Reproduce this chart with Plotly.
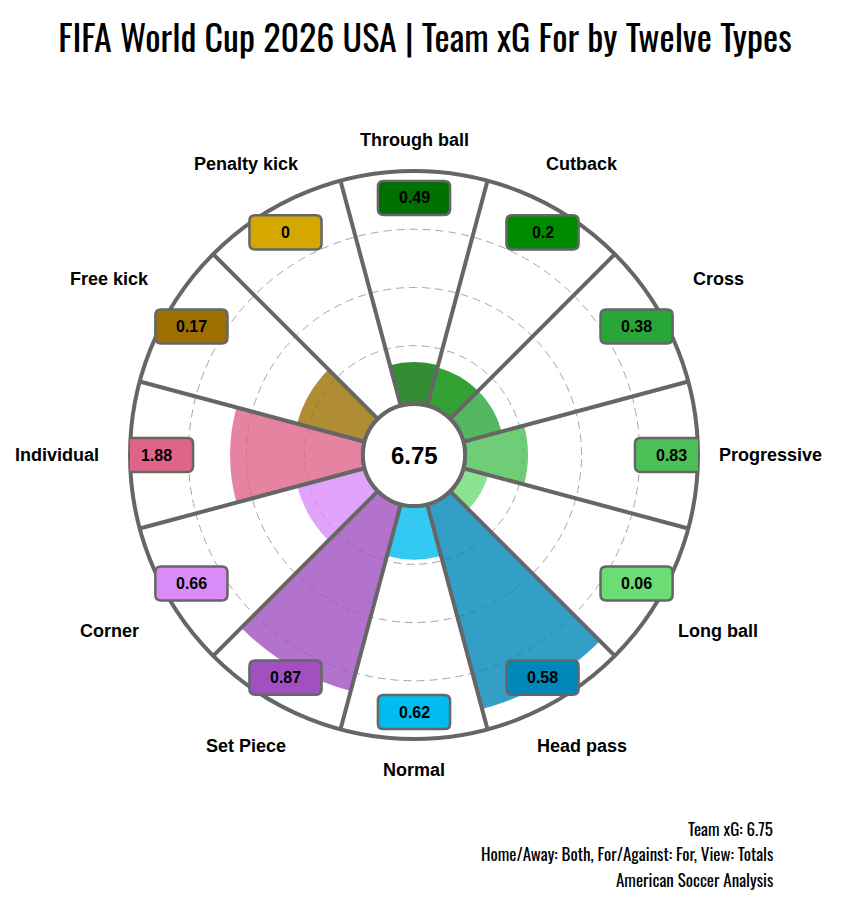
import numpy as np
import plotly.graph_objects as go

# categories clockwise from the top
categories = ["Through ball", "Cutback", "Cross", "Progressive", "Long ball", "Head pass",
              "Normal", "Set Piece", "Corner", "Individual", "Free kick", "Penalty kick"]
xg_values = [0.49, 0.2, 0.38, 0.83, 0.06, 0.58, 0.62, 0.87, 0.66, 1.88, 0.17, 0]
percentiles = [18, 17, 17, 27, 11, 91, 23, 83, 30, 57, 30, 0]
colors = ["#007000", "#008a00", "#29a638", "#4cc055", "#6cdc74", "#0087b9",
          "#00bcef", "#a050c0", "#d88cf8", "#e06488", "#9c7000", "#d4a800"]
total_xg = 6.75

title_text = "FIFA World Cup 2026 USA | Team xG For by Twelve Types"
footer_lines = ["Team xG: 6.75",
                "Home/Away: Both, For/Against: For, View: Totals",
                "American Soccer Analysis"]

COND = "Oswald, 'DejaVu Sans Condensed', 'Liberation Sans Narrow', sans-serif"
SANS = "Arial, 'Liberation Sans', sans-serif"
GRAY = "#666666"

angles = [i * 30 for i in range(len(categories))]
bounds = [a + 15 for a in angles]

fig = go.Figure()

fig.add_trace(go.Barpolar(
    r=percentiles, theta=angles, width=30,
    marker=dict(color=colors, opacity=0.8, line=dict(width=0)),
    hoverinfo="skip",
))

# sector separators
sep_r, sep_t = [], []
for b in bounds:
    sep_r += [0, 100, None]
    sep_t += [b, b, None]
fig.add_trace(go.Scatterpolar(
    r=sep_r, theta=sep_t, mode="lines", line=dict(color=GRAY, width=4),
    cliponaxis=False, hoverinfo="skip",
))

# ring around the hole
ring_t = list(range(0, 361, 2))
fig.add_trace(go.Scatterpolar(
    r=[0] * len(ring_t), theta=ring_t, mode="lines", line=dict(color=GRAY, width=4),
    cliponaxis=False, hoverinfo="skip",
))

# invisible trace so the overlay cartesian axes exist
fig.add_trace(go.Scatter(x=[-1, 1], y=[-1, 1], mode="markers", marker=dict(opacity=0),
                         hoverinfo="skip"))


def rounded_rect(cx, cy, hw, hh, cr):
    x0, x1, y0, y1 = cx - hw, cx + hw, cy - hh, cy + hh
    return (f"M {x0 + cr},{y0} L {x1 - cr},{y0} Q {x1},{y0} {x1},{y0 + cr} "
            f"L {x1},{y1 - cr} Q {x1},{y1} {x1 - cr},{y1} "
            f"L {x0 + cr},{y1} Q {x0},{y1} {x0},{y1 - cr} "
            f"L {x0},{y0 + cr} Q {x0},{y0} {x0 + cr},{y0} Z")


R_BOX = 0.905
shapes, annotations = [], []
for ang, v, c, cat in zip(angles, xg_values, colors, categories):
    s, co = np.sin(np.radians(ang)), np.cos(np.radians(ang))
    cx, cy = R_BOX * s, R_BOX * co
    shapes.append(dict(type="path", xref="x", yref="y", path=rounded_rect(cx, cy, 0.127, 0.06, 0.02),
                       fillcolor=c, line=dict(color=GRAY, width=2.5), layer="above"))
    annotations.append(dict(x=cx, y=cy, xref="x", yref="y", text=f"<b>{v:g}</b>", showarrow=False,
                            font=dict(family=SANS, size=16, color="black")))
    # category label outside the ring (paper coords, polar square fills the plot area)
    rho = 1.109 + 0.148 * abs(s)
    annotations.append(dict(x=0.5 + 0.5 * rho * s, y=0.5 + 0.5 * rho * co,
                            xref="paper", yref="paper", text=f"<b>{cat}</b>",
                            showarrow=False, xanchor="center", yanchor="middle",
                            font=dict(family=SANS, size=18, color="black")))

annotations.append(dict(x=0, y=0, xref="x", yref="y", text=f"<b>{total_xg}</b>", showarrow=False,
                        font=dict(family=SANS, size=24, color="black")))

for yy, line in zip([-0.1567, -0.2016, -0.2465], footer_lines):
    annotations.append(dict(x=1.1356, y=yy, xref="paper", yref="paper", text=line, showarrow=False,
                            xanchor="right", yanchor="middle",
                            font=dict(family=COND, size=17, color="black")))

fig.update_layout(
    width=842, height=900,
    margin=dict(l=122, r=152, t=163, b=169),
    paper_bgcolor="white", plot_bgcolor="rgba(0,0,0,0)",
    showlegend=False,
    title=dict(text=title_text, x=417 / 842, xref="container", xanchor="center",
               y=1 - 31 / 900, yref="container", yanchor="middle",
               font=dict(family=COND, size=36, color="black")),
    xaxis=dict(range=[-1, 1], visible=False, fixedrange=True),
    yaxis=dict(range=[-1, 1], visible=False, fixedrange=True),
    polar=dict(
        domain=dict(x=[0, 1], y=[0, 1]),
        hole=0.18,
        bgcolor="rgba(0,0,0,0)",
        radialaxis=dict(range=[0, 100], tickvals=[25, 50, 75], showticklabels=False, ticks="",
                        showline=False, gridcolor="#a6a6a6", griddash="8px,5px", gridwidth=1.4),
        angularaxis=dict(direction="clockwise", rotation=90, tickmode="array",
                         tickvals=angles, showticklabels=False, showgrid=False,
                         showline=True, linecolor=GRAY, linewidth=4, ticks=""),
    ),
    shapes=shapes,
    annotations=annotations,
)

fig.write_html("out.html")
